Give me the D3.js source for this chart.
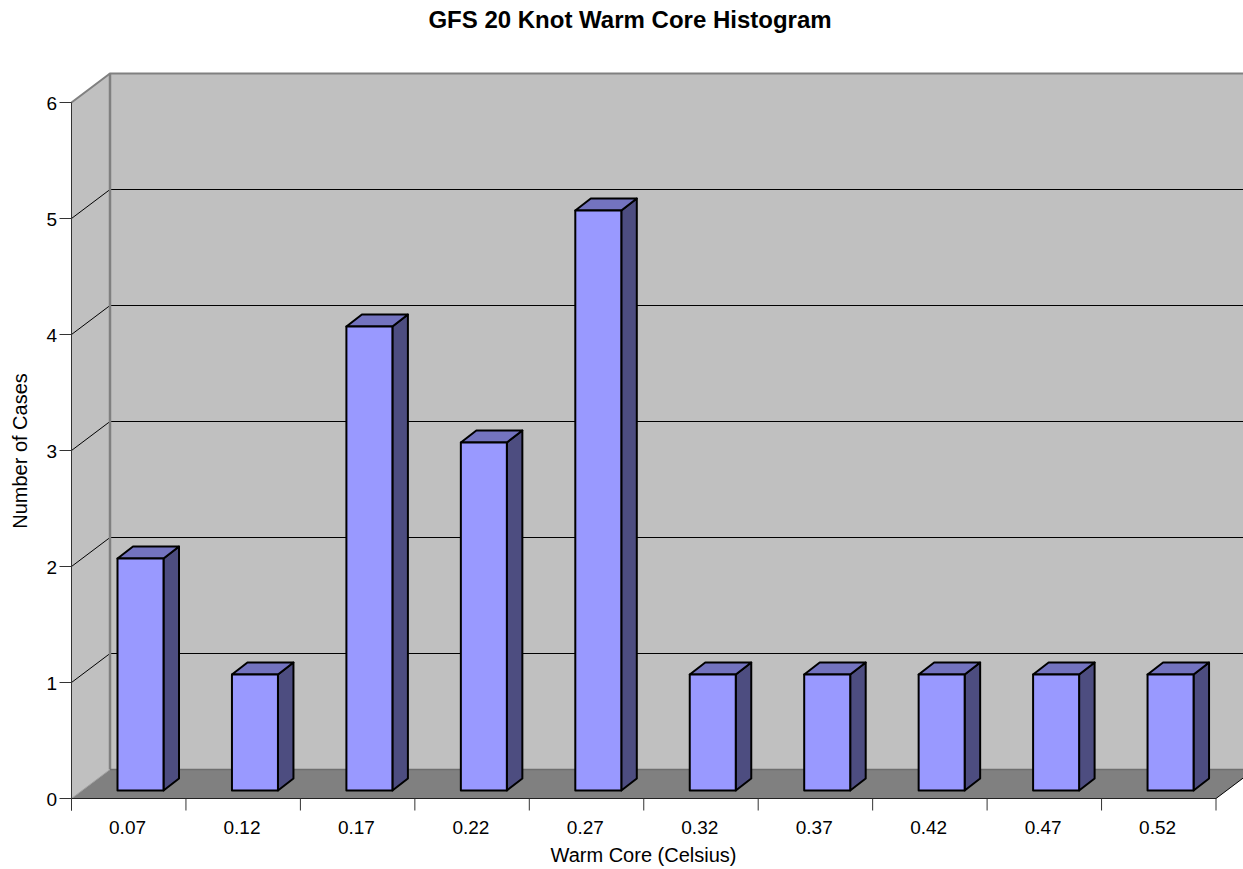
<!DOCTYPE html>
<html><head><meta charset="utf-8">
<script src="https://cdnjs.cloudflare.com/ajax/libs/d3/7.8.5/d3.min.js"></script>
<style>html,body{margin:0;padding:0;background:#fff}svg{display:block}text{font-family:"Liberation Sans",Arial,sans-serif;fill:#000}</style>
</head><body><svg id="c" width="1243" height="869"></svg>
<script>
const categories=["0.07","0.12","0.17","0.22","0.27","0.32","0.37","0.42","0.47","0.52"];
const values=[2,1,4,3,5,1,1,1,1,1];
const yTicks=[0,1,2,3,4,5,6];
const svg=d3.select("#c");
const x=d3.scaleBand().domain(categories).range([71.5,1216]);
const y=d3.scaleLinear().domain([0,6]).range([798.5,102.5]);
const depth={x:38.5,y:-29}, barDepth={x:15.5,y:-12}, barInset={x:46,y:-8}, barW=46;
const pts=a=>a.map(p=>p.join(",")).join(" ");
const xL=x.range()[0], xR=x.range()[1], W=1243;
// walls
svg.append("polygon").attr("points",pts([[xL,y(0)],[xL+depth.x,y(0)+depth.y],[xL+depth.x,y(6)+depth.y],[xL,y(6)]])).attr("fill","#c0c0c0");
svg.append("rect").attr("x",xL+depth.x).attr("y",y(6)+depth.y).attr("width",W-xL-depth.x).attr("height",y(0)-y(6)).attr("fill","#c0c0c0");
svg.append("polygon").attr("points",pts([[xL,y(0)],[xL+depth.x,y(0)+depth.y],[xR+depth.x,y(0)+depth.y],[xR,y(0)]])).attr("fill","#808080");
// grid
yTicks.filter(t=>t>0&&t<6).forEach(t=>{
 svg.append("path").attr("d",`M${xL},${y(t)}L${xL+depth.x},${y(t)+depth.y}H${W}`).attr("fill","none").attr("stroke","#000").attr("stroke-width",1);
});
// wall edges
svg.append("path").attr("d",`M${xL},${y(6)}L${xL+depth.x},${y(6)+depth.y}H${W}`).attr("fill","none").attr("stroke","#808080").attr("stroke-width",2);
svg.append("line").attr("x1",xL+depth.x).attr("x2",xL+depth.x).attr("y1",y(6)+depth.y).attr("y2",y(0)+depth.y).attr("stroke","#808080").attr("stroke-width",2.5);
svg.append("path").attr("d",`M${xL+depth.x},${y(0)+depth.y}H${W}`).attr("stroke","#6e6e6e").attr("stroke-width",1.5).attr("fill","none");
svg.append("path").attr("d",`M${xL},${y(0)}L${xL+depth.x},${y(0)+depth.y}`).attr("stroke","#a0a0a0").attr("stroke-width",1);
svg.append("path").attr("d",`M${xR},${y(0)}L${xR+depth.x},${y(0)+depth.y}`).attr("stroke","#000").attr("stroke-width",1);
// axes
svg.append("line").attr("x1",xL).attr("x2",xL).attr("y1",y(6)).attr("y2",y(0)+12).attr("stroke","#333").attr("stroke-width",1);
svg.append("line").attr("x1",xL).attr("x2",xR).attr("y1",y(0)).attr("y2",y(0)).attr("stroke","#222").attr("stroke-width",1);
yTicks.forEach(t=>{
 svg.append("line").attr("x1",xL-12).attr("x2",xL).attr("y1",y(t)).attr("y2",y(t)).attr("stroke","#333");
 svg.append("text").attr("x",xL-14.5).attr("y",y(t)+7).attr("text-anchor","end").attr("font-size",19).text(t);
});
categories.forEach((c,i)=>{
 svg.append("line").attr("x1",x(c)+x.bandwidth()).attr("x2",x(c)+x.bandwidth()).attr("y1",y(0)).attr("y2",y(0)+12).attr("stroke","#333");
 svg.append("text").attr("x",x(c)+x.bandwidth()/2-1.2).attr("y",834).attr("text-anchor","middle").attr("font-size",19).text(c);
});
svg.append("line").attr("x1",xL).attr("x2",xL).attr("y1",y(0)).attr("y2",y(0)+12).attr("stroke","#333");
// bars
const g=svg.selectAll("g.bar").data(categories.map((c,i)=>({c,v:values[i]}))).join("g").attr("class","bar");
const common=s=>s.attr("stroke","#000").attr("stroke-width",2).attr("stroke-linejoin","round");
g.each(function(d){
 const s=d3.select(this), l=x(d.c)+barInset.x, r=l+barW, b=y(0)+barInset.y, t=y(d.v)+barInset.y;
 common(s.append("polygon").attr("points",pts([[r,t],[r+barDepth.x,t+barDepth.y],[r+barDepth.x,b+barDepth.y],[r,b]])).attr("fill","#4d4d80"));
 common(s.append("polygon").attr("points",pts([[l,t],[l+barDepth.x,t+barDepth.y],[r+barDepth.x,t+barDepth.y],[r,t]])).attr("fill","#7373bf"));
 common(s.append("rect").attr("x",l).attr("y",t).attr("width",barW).attr("height",b-t).attr("fill","#9999ff"));
});
// titles
svg.append("text").attr("x",630).attr("y",28).attr("text-anchor","middle").attr("font-size",24).attr("font-weight","bold").text("GFS 20 Knot Warm Core Histogram");
svg.append("text").attr("x",643.5).attr("y",862).attr("text-anchor","middle").attr("font-size",20).text("Warm Core (Celsius)");
svg.append("text").attr("transform","translate(27,451) rotate(-90)").attr("text-anchor","middle").attr("font-size",20).text("Number of Cases");
</script></body></html>
